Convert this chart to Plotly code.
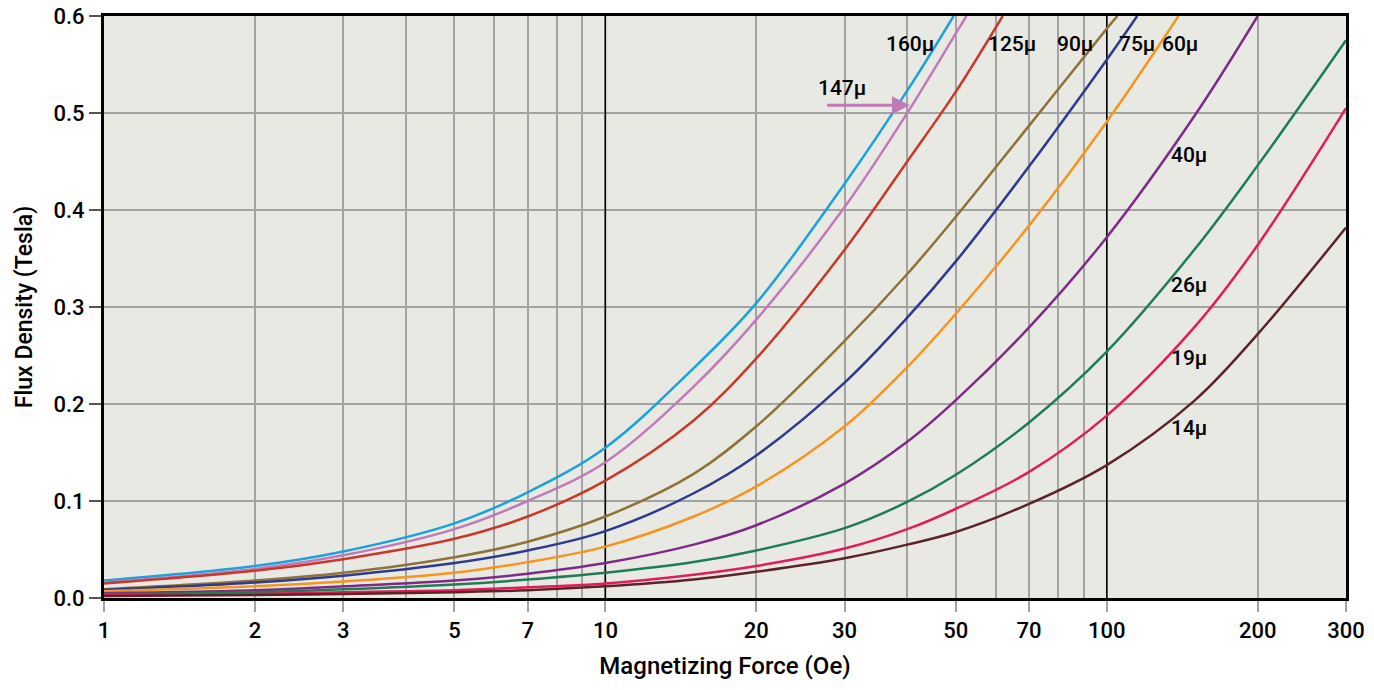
import math
import plotly.graph_objects as go

# Magnetizing force (Oe) sample points
H = [1, 2, 3, 5, 7, 10, 15, 20, 30, 40, 50, 70, 100, 150, 200, 300]

# Flux density (Tesla) per permeability
names = ["160μ", "147μ", "125μ", "90μ", "75μ", "60μ", "40μ", "26μ", "19μ", "14μ"]

h160 = [1, 2, 3, 5, 7, 10, 15, 20, 30, 40, 49.5]
b160 = [0.018, 0.033, 0.048, 0.077, 0.109, 0.155, 0.237, 0.304, 0.427, 0.523, 0.600]

h147 = [1, 2, 3, 5, 7, 10, 15, 20, 30, 40, 50, 52.5]
b147 = [0.016, 0.030, 0.044, 0.071, 0.100, 0.140, 0.218, 0.287, 0.403, 0.500, 0.582, 0.600]

h125 = [1, 2, 3, 5, 7, 10, 15, 20, 30, 40, 50, 62]
b125 = [0.015, 0.028, 0.040, 0.061, 0.084, 0.121, 0.183, 0.247, 0.359, 0.450, 0.522, 0.600]

h90 = [1, 2, 3, 5, 7, 10, 15, 20, 30, 40, 50, 70, 100, 105]
b90 = [0.009, 0.018, 0.026, 0.042, 0.058, 0.084, 0.128, 0.177, 0.265, 0.334, 0.393, 0.487, 0.587, 0.600]

h75 = [1, 2, 3, 5, 7, 10, 15, 20, 30, 40, 50, 70, 100, 115]
b75 = [0.0085, 0.016, 0.023, 0.036, 0.049, 0.069, 0.108, 0.147, 0.222, 0.289, 0.347, 0.445, 0.555, 0.600]

h60 = [1, 2, 3, 5, 7, 10, 15, 20, 30, 40, 50, 70, 100, 139]
b60 = [0.007, 0.012, 0.017, 0.026, 0.037, 0.053, 0.084, 0.115, 0.177, 0.238, 0.293, 0.384, 0.491, 0.600]

h40 = [1, 2, 3, 5, 7, 10, 15, 20, 30, 40, 50, 70, 100, 150, 200]
b40 = [0.005, 0.008, 0.012, 0.018, 0.025, 0.036, 0.055, 0.075, 0.118, 0.161, 0.204, 0.279, 0.372, 0.498, 0.600]

h26 = H
b26 = [0.004, 0.006, 0.009, 0.014, 0.019, 0.026, 0.037, 0.049, 0.072, 0.099, 0.127, 0.181, 0.254, 0.360, 0.446, 0.575]

h19 = H
b19 = [0.003, 0.004, 0.006, 0.008, 0.011, 0.015, 0.024, 0.033, 0.051, 0.071, 0.092, 0.130, 0.188, 0.280, 0.364, 0.505]

h14 = H
b14 = [0.002, 0.003, 0.004, 0.006, 0.008, 0.012, 0.019, 0.027, 0.041, 0.055, 0.068, 0.097, 0.137, 0.204, 0.272, 0.382]

colors = ["#1BA1DC", "#C07AB8", "#C8392B", "#8E7238", "#2E3A8F",
          "#F7941E", "#7E2B88", "#1E7D55", "#E21C5A", "#5C2427"]

series_h = [h160, h147, h125, h90, h75, h60, h40, h26, h19, h14]
series_b = [b160, b147, b125, b90, b75, b60, b40, b26, b19, b14]

# label placements (H, B)
label_pos = {
    "160μ": (40.5, 0.571), "125μ": (64.7, 0.571), "90μ": (86.4, 0.571),
    "75μ": (115, 0.571), "60μ": (140, 0.571), "147μ": (29.6, 0.526),
    "40μ": (146, 0.457), "26μ": (146, 0.323), "19μ": (146, 0.247), "14μ": (146, 0.175),
}

x_tickvals = [1, 2, 3, 5, 7, 10, 20, 30, 50, 70, 100, 200, 300]
x_minor = [4, 6, 8, 9, 40, 60, 80, 90]
y_tickvals = [0, 0.1, 0.2, 0.3, 0.4, 0.5, 0.6]

FONT = "Roboto, Lato, Liberation Sans, sans-serif"
W = 500

fig = go.Figure()

# black decade lines
for xv in [10, 100]:
    fig.add_trace(go.Scatter(x=[xv, xv], y=[0, 0.6], mode="lines",
                             line=dict(color="black", width=1.5),
                             hoverinfo="skip", showlegend=False))

for name, hh, bb, c in zip(names, series_h, series_b, colors):
    fig.add_trace(go.Scatter(x=hh, y=bb, mode="lines", name=name,
                             line=dict(color=c, width=2.5, shape="spline", smoothing=1.0),
                             showlegend=False))

for name, (hx, by) in label_pos.items():
    fig.add_annotation(x=math.log10(hx), y=by, text=name, showarrow=False,
                       font=dict(family=FONT, size=21, color="black", weight=W),
                       xanchor="center", yanchor="middle")

# arrow for 147μ
fig.add_annotation(x=math.log10(40.5), y=0.508, ax=math.log10(27.5), ay=0.508,
                   axref="x", ayref="y", xref="x", yref="y", text="",
                   showarrow=True, arrowhead=2, arrowsize=1.2, arrowwidth=3,
                   arrowcolor="#C07AB8")

fig.update_xaxes(type="log", range=[0, math.log10(300)], automargin=False,
                 tickvals=x_tickvals, ticktext=[str(v) for v in x_tickvals],
                 showgrid=True, gridcolor="#A3A3A3", gridwidth=1.5,
                 ticks="outside", ticklen=11, tickcolor="#A3A3A3", tickwidth=1.5,
                 minor=dict(tickvals=x_minor, showgrid=True, gridcolor="#A3A3A3",
                            gridwidth=1.5, ticks=""),
                 showline=True, linecolor="black", linewidth=3, mirror=True,
                 tickfont=dict(family=FONT, size=22, color="black", weight=W),
                 title=dict(text="Magnetizing Force (Oe)",
                            font=dict(family=FONT, size=24, color="black", weight=W)),
                 zeroline=False)

fig.update_yaxes(range=[0, 0.6], tickvals=y_tickvals, tickformat=".1f", automargin=False,
                 showgrid=True, gridcolor="#A3A3A3", gridwidth=1.5,
                 ticks="outside", ticklen=12, tickcolor="#555555", tickwidth=1.5,
                 showline=True, linecolor="black", linewidth=3, mirror=True,
                 tickfont=dict(family=FONT, size=22, color="black", weight=W),
                 title=dict(text="Flux Density (Tesla)",
                            font=dict(family=FONT, size=23, color="black", weight=W)),
                 zeroline=False)

fig.update_layout(width=1374, height=690,
                  margin=dict(l=104, r=28, t=16, b=92, autoexpand=False),
                  plot_bgcolor="#E9E9E4", paper_bgcolor="white",
                  font=dict(family=FONT, color="black"))

fig.write_html("out.html", config={"displayModeBar": False},
               post_script="document.body.style.margin='0';document.body.style.overflow='hidden';")
